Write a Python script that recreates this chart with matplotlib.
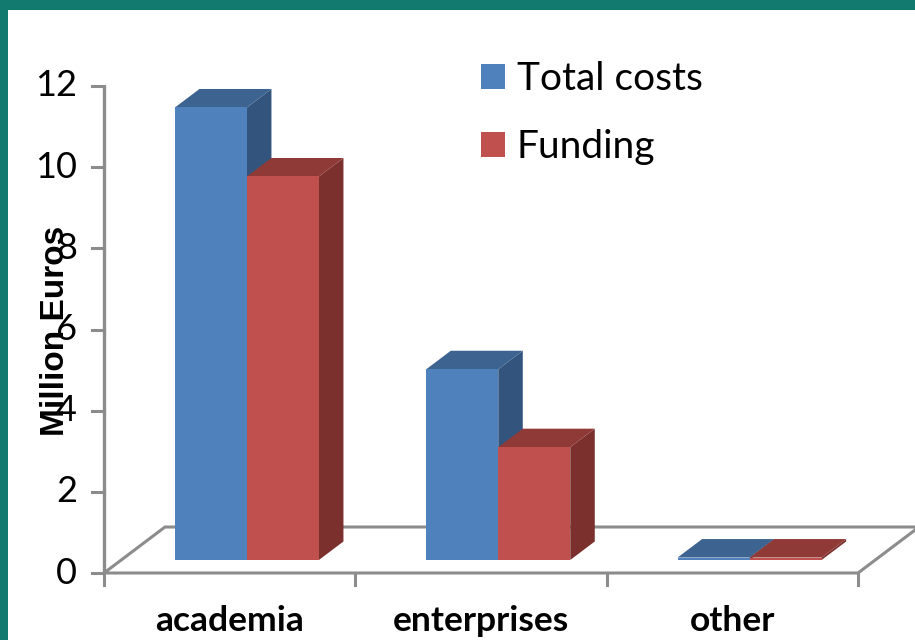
import matplotlib
matplotlib.use("Agg")
import matplotlib.pyplot as plt
from matplotlib.patches import Polygon, Rectangle, Patch

# ---- data -------------------------------------------------------------
categories = ["academia", "enterprises", "other"]
total_costs = [11.15, 4.70, 0.06]
funding = [9.45, 2.78, 0.06]
series_names = ["Total costs", "Funding"]
y_ticks = [0, 2, 4, 6, 8, 10, 12]

# ---- styling ------------------------------------------------------------
front_cols = ["#4F81BD", "#C0504D"]
top_cols = ["#3D6391", "#903A38"]
side_cols = ["#33547C", "#7C302E"]
axis_col = "#8C8C8C"
frame_col = "#127A6E"

W, H = 915, 640
fig = plt.figure(figsize=(W / 100, H / 100), dpi=100)
fig.patch.set_facecolor("white")
ax = fig.add_axes([0, 0, 1, 1])
ax.axis("off")

# pixel layout of the plot box (x axis ends, value 0 and 12 rows from top)
x_left_px, x_right_px = 104, 858
row0, row12 = 573, 86
ncat = len(categories)
ppx = (x_right_px - x_left_px) / ncat
ppy = (row0 - row12) / 12.0
ax.set_xlim(-0.5 - x_left_px / ppx, -0.5 + (W - x_left_px) / ppx)
ax.set_ylim(-(H - row0) / ppy, row0 / ppy)


def px_x(px):
    return -0.5 + (px - x_left_px) / ppx


def px_y(row):
    return (row0 - row) / ppy


# oblique depth of the floor
DX = 61 / ppx
DY = 46 / ppy
f0, f1 = 0.283, 0.685          # bar slab depth range (fraction of floor depth)
bw = 72 / ppx                  # single bar width in category units

# floor outline
xl, xr = -0.5, ncat - 0.5
floor = [(xl, 0), (xr, 0), (xr + DX, DY), (xl + DX, DY)]
ax.add_patch(Polygon(floor, closed=True, facecolor="white", edgecolor=axis_col,
                     linewidth=2.2, zorder=1, clip_on=False))

# value axis
ax.plot([xl, xl], [0, y_ticks[-1]], color=axis_col, lw=2.4, zorder=2,
        solid_capstyle="butt")
tick_len = 12 / ppx
for t in y_ticks:
    ax.plot([xl - tick_len, xl], [t, t], color=axis_col, lw=2.2, zorder=2)
    ax.text(px_x(77), t, str(t), ha="right", va="center", fontsize=26,
            family="Lato", color="black", zorder=6)

# category axis ticks and labels
for i in range(ncat + 1):
    xt = -0.5 + i
    ax.plot([xt, xt], [0, -12 / ppy], color=axis_col, lw=2.2, zorder=2)
for i, c in enumerate(categories):
    ax.text(i, px_y(621), c, ha="center", va="center", fontsize=25.5,
            family="Lato", fontweight="bold", color="black")

# 3D bars
ox, oy = f0 * DX, f0 * DY
ddx, ddy = (f1 - f0) * DX, (f1 - f0) * DY
for s, vals in enumerate([total_costs, funding]):
    lefts = [i - bw + s * bw + ox for i in range(ncat)]
    for x0, v in zip(lefts, vals):
        x1 = x0 + bw
        yb, yt = oy, oy + v
        side = [(x1, yb), (x1 + ddx, yb + ddy), (x1 + ddx, yt + ddy), (x1, yt)]
        top = [(x0, yt), (x1, yt), (x1 + ddx, yt + ddy), (x0 + ddx, yt + ddy)]
        ax.add_patch(Polygon(side, closed=True, facecolor=side_cols[s],
                             edgecolor="none", zorder=3 + s))
        ax.add_patch(Polygon(top, closed=True, facecolor=top_cols[s],
                             edgecolor="none", zorder=3 + s))
    ax.bar(lefts, vals, width=bw, bottom=oy, align="edge",
           color=front_cols[s], edgecolor="none", zorder=3.5 + s)

# axis title
ax.text(px_x(56), px_y(331), "Million Euros", rotation=90, ha="center",
        va="center", fontsize=24, family="Liberation Sans", fontweight="bold",
        color="black", zorder=7)

# legend
handles = [Patch(facecolor=front_cols[k], edgecolor="none") for k in range(2)]
leg = ax.legend(handles, series_names, loc="upper left",
                bbox_to_anchor=(481 / W, 1 - 61 / H), bbox_transform=fig.transFigure,
                frameon=False, prop={"family": "Lato", "size": 28},
                handlelength=0.62, handleheight=0.62, handletextpad=0.3,
                labelspacing=0.82, borderaxespad=0, borderpad=0)

# teal frame along top and left edges
fig.patches.append(Rectangle((0, 1 - 10 / H), 1, 10 / H, transform=fig.transFigure,
                             facecolor=frame_col, edgecolor="none", zorder=10))
fig.patches.append(Rectangle((0, 0), 8 / W, 1, transform=fig.transFigure,
                             facecolor=frame_col, edgecolor="none", zorder=10))

fig.savefig("out.png", dpi=100, facecolor="white")
